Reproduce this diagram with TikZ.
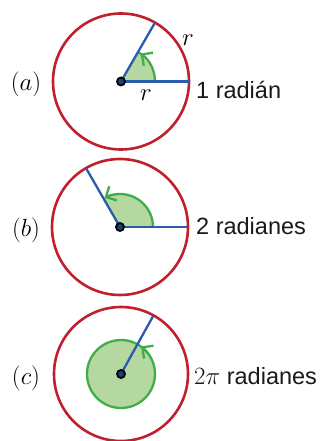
\documentclass[tikz,border=0pt]{standalone}
\usepackage{fontspec}
\setmainfont{Liberation Sans}
\usetikzlibrary{arrows.meta}
\definecolor{redc}{HTML}{C21F2C}
\definecolor{bluec}{HTML}{2A5CAA}
\definecolor{greenc}{HTML}{3DAE49}
\definecolor{greenf}{HTML}{B4D8A0}
\tikzset{
  redcirc/.style={draw=redc,line width=2.6pt},
  radius line/.style={draw=bluec,line width=2.3pt},
  sector/.style={fill=greenf},
  arcline/.style={draw=greenc,line width=2.3pt},
  arctip/.style={draw=greenc,line width=2.3pt,-{Straight Barb[length=8pt,width=16pt,line width=2.3pt]}},
  centerdot/.style={circle,draw=black,fill=bluec!70!black,line width=1.8pt,minimum size=8pt,inner sep=0pt},
  lab/.style={font=\fontsize{23.5}{27}\selectfont,inner sep=0pt,text=black!90},
  plab/.style={font=\fontsize{25}{29}\selectfont,inner sep=0pt},
}
\begin{document}
\begin{tikzpicture}[x=1pt,y=1pt]
\useasboundingbox (0,0) rectangle (322,441);
% (a)
\coordinate (A) at (121,359.5);
\draw[redcirc] (A) circle[radius=68];
\fill[sector] (A) -- ++(0:34) arc[start angle=0,end angle=60,radius=34] -- cycle;
\draw[arcline] ([shift={(52:34)}]A) arc[start angle=52,end angle=60,radius=34];
\draw[arctip] ([shift={(0:34)}]A) arc[start angle=0,end angle=55,radius=34];
\coordinate (A1) at ([shift={(0:68)}]A);
\coordinate (A2) at ([shift={(60:68)}]A);
\draw[radius line] (A) -- (A1);
\draw[radius line] (A) -- (A2);
\node[centerdot] (ca) at (A) {};
\node[plab] (ra1) at (188,401) {$r$};
\node[plab] (ra2) at (146,346) {$r$};
\node[lab,anchor=base west] (ta) at (196,342) {1 radián};
\node[plab] (la) at (26,357) {$(a)$};
% (b)
\coordinate (B) at (120,214);
\draw[redcirc] (B) circle[radius=68];
\fill[sector] (B) -- ++(0:33) arc[start angle=0,end angle=120,radius=33] -- cycle;
\draw[arctip] ([shift={(0:33)}]B) arc[start angle=0,end angle=118,radius=33];
\coordinate (B1) at ([shift={(0:68)}]B);
\coordinate (B2) at ([shift={(120:68)}]B);
\draw[radius line] (B) -- (B1);
\draw[radius line] (B) -- (B2);
\node[centerdot] (cb) at (B) {};
\node[lab,anchor=base west] (tb) at (196,206.7) {2 radianes};
\node[plab] (lb) at (26,210.5) {$(b)$};
% (c)
\coordinate (C) at (121,67);
\draw[redcirc] (C) circle[radius=67];
\fill[sector] (C) circle[radius=34];
\draw[arcline] (C) circle[radius=34];
\draw[arctip] ([shift={(38:34)}]C) arc[start angle=38,end angle=54,radius=34];
\coordinate (C2) at ([shift={(61:67)}]C);
\draw[radius line] (C) -- (C2);
\node[centerdot] (cc) at (C) {};
\node[lab,anchor=base west] (tc) at (194,56.7) {$2\pi$ radianes};
\node[plab] (lc) at (26,62.5) {$(c)$};
\end{tikzpicture}
\end{document}
